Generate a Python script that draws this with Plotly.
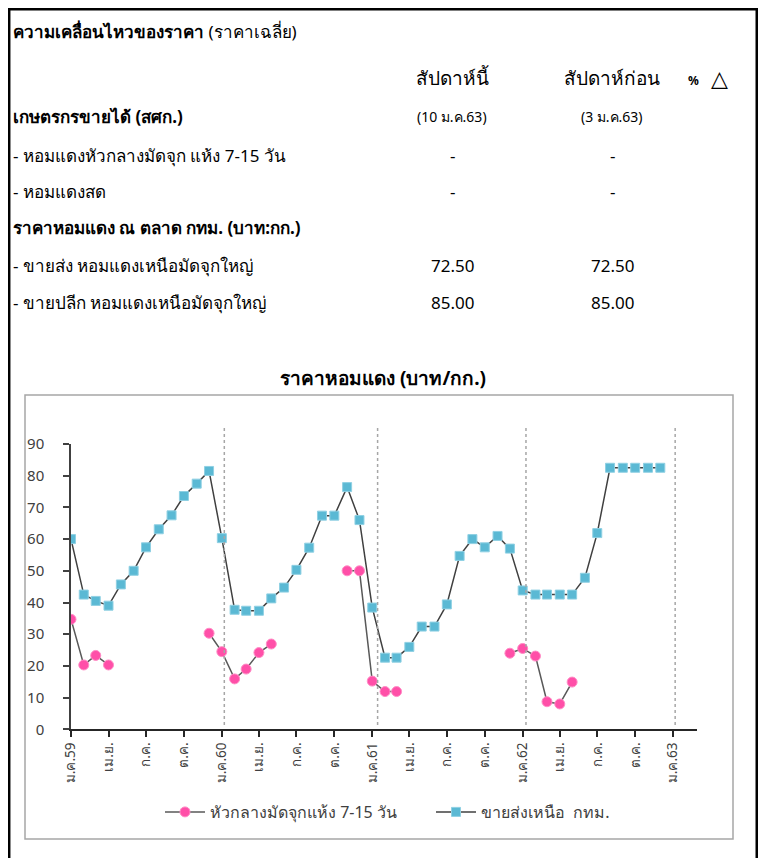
import plotly.graph_objects as go
import pandas as pd

# ---------------- data ----------------
months = pd.date_range("2016-01-01", "2019-12-01", freq="MS").strftime("%Y-%m-%d").tolist()

# ขายส่งเหนือ กทม. (baht/kg), Jan 2016 - Dec 2019
wholesale = [60.0, 42.5, 40.5, 39.0, 45.7, 50.0, 57.4, 63.1, 67.5, 73.6, 77.5, 81.5,
             60.3, 37.7, 37.4, 37.4, 41.3, 44.7, 50.3, 57.3, 67.4, 67.4, 76.4, 66.0,
             38.4, 22.6, 22.6, 26.0, 32.4, 32.4, 39.4, 54.7, 60.0, 57.4, 61.0, 57.0,
             43.8, 42.5, 42.5, 42.5, 42.5, 47.8, 61.9, 82.5, 82.5, 82.5, 82.5, 82.5]

# หัวกลางมัดจุกแห้ง 7-15 วัน (baht/kg), gaps where no data
farm = [34.7, 20.3, 23.3, 20.3, None, None, None, None, None, None, None, 30.3,
        24.5, 15.9, 19.0, 24.2, 26.9, None, None, None, None, None, 50.0, 50.0,
        15.2, 11.9, 11.9, None, None, None, None, None, None, None, None, 24.0,
        25.5, 23.1, 8.7, 8.0, 14.9, None, None, None, None, None, None, None]

tick_dates = pd.date_range("2016-01-01", "2020-01-01", freq="3MS").strftime("%Y-%m-%d").tolist()
tick_labels = ["ม.ค.59", "เม.ย.", "ก.ค.", "ต.ค.",
               "ม.ค.60", "เม.ย.", "ก.ค.", "ต.ค.",
               "ม.ค.61", "เม.ย.", "ก.ค.", "ต.ค.",
               "ม.ค.62", "เม.ย.", "ก.ค.", "ต.ค.",
               "ม.ค.63"]
year_marks = ["2017-01-07", "2018-01-14", "2019-01-09", "2020-01-06"]

series_names = ["หัวกลางมัดจุกแห้ง 7-15 วัน", "ขายส่งเหนือ  กทม."]

table_rows = [
    ("<b>เกษตรกรขายได้ (สศก.)</b>", "(10 ม.ค.63)", "(3 ม.ค.63)"),
    ("- หอมแดงหัวกลางมัดจุก แห้ง 7-15 วัน", "-", "-"),
    ("- หอมแดงสด", "-", "-"),
    ("<b>ราคาหอมแดง ณ ตลาด กทม. (บาท:กก.)</b>", "", ""),
    ("- ขายส่ง หอมแดงเหนือมัดจุกใหญ่", "72.50", "72.50"),
    ("- ขายปลีก หอมแดงเหนือมัดจุกใหญ่", "85.00", "85.00"),
]

# ---------------- figure ----------------
OFF = 8                                  # page margin around the figure
W, H = 766 - OFF, 858 - OFF
FONT = "Tahoma, 'Noto Sans', 'DejaVu Sans', sans-serif"


def px(x):
    return (x - OFF) / W


def py(y):
    return 1 - (y - OFF) / H


fig = go.Figure()
fig.add_trace(go.Scatter(
    x=months, y=farm, name=series_names[0], mode="lines+markers",
    connectgaps=False,
    line=dict(color="#595959", width=1.5),
    marker=dict(symbol="circle", size=10, color="#FF4FA8",
                line=dict(color="#FF8CC6", width=1)),
))
fig.add_trace(go.Scatter(
    x=months, y=wholesale, name=series_names[1], mode="lines+markers",
    line=dict(color="#404040", width=1.5),
    marker=dict(symbol="square", size=9, color="#5BB9D4",
                line=dict(color="#8FD0E3", width=1)),
))

shapes = []
for d in year_marks:
    shapes.append(dict(type="line", xref="x", yref="paper", x0=d, x1=d,
                       y0=py(725), y1=py(428),
                       line=dict(color="#A6A6A6", width=1.5, dash="dot")))
# chart box
shapes.append(dict(type="rect", xref="paper", yref="paper",
                   x0=px(25), x1=px(733), y0=py(839), y1=py(395),
                   line=dict(color="#A6A6A6", width=1.5)))
# outer black border (as close to the page edge as the figure allows)
shapes.append(dict(type="line", xref="paper", yref="paper", x0=px(9.2), x1=px(9.2), y0=0, y1=1,
                   line=dict(color="black", width=2.5)))
shapes.append(dict(type="line", xref="paper", yref="paper", x0=0, x1=px(758.5), y0=py(9.2), y1=py(9.2),
                   line=dict(color="black", width=2.5)))
shapes.append(dict(type="line", xref="paper", yref="paper", x0=px(757), x1=px(757), y0=0, y1=py(8),
                   line=dict(color="black", width=3)))

ann = []


def text(x, y, s, size=17, anchor="left", color="black"):
    ann.append(dict(xref="paper", yref="paper", x=px(x), y=py(y), text=s,
                    showarrow=False, xanchor=anchor, yanchor="middle",
                    font=dict(family=FONT, size=size, color=color)))


text(11, 31, "<b>ความเคลื่อนไหวของราคา</b> (ราคาเฉลี่ย)", size=17)
text(452, 78, "สัปดาห์นี้", size=19, anchor="center")
text(612, 78, "สัปดาห์ก่อน", size=19, anchor="center")
text(701, 80, "<b>%</b>", size=12, anchor="right")
text(709, 77, "<b>△</b>", size=22, anchor="left")
row_y = [117, 155, 191, 228, 266, 302]
for (lab, a, b), yy in zip(table_rows, row_y):
    text(11, yy, lab, size=17)
    small = a.startswith("(")
    text(452, yy, a, size=14 if small else 17, anchor="center")
    text(612, yy, b, size=14 if small else 17, anchor="center")

text(383, 378, "<b>ราคาหอมแดง (บาท/กก.)</b>", size=19, anchor="center")

fig.update_layout(
    width=W, height=H,
    margin=dict(l=0, r=0, t=0, b=0, autoexpand=False),
    paper_bgcolor="white", plot_bgcolor="white",
    font=dict(family=FONT, size=14, color="#404040"),
    shapes=shapes, annotations=ann,
    showlegend=True,
    legend=dict(orientation="h", x=px(160), xanchor="left", y=py(812), yanchor="middle",
                font=dict(family=FONT, size=16, color="#404040"),
                itemwidth=40, entrywidth=216, traceorder="normal"),
    xaxis=dict(domain=[px(71), px(697)], range=["2016-01-01", "2020-02-28"],
               tickvals=tick_dates, ticktext=tick_labels, tickangle=-90,
               showgrid=False, zeroline=False, automargin=False,
               showline=True, linecolor="#262626", linewidth=1.5,
               ticks="outside", ticklen=6, tickcolor="#262626", tickwidth=1.5,
               tickfont=dict(family=FONT, size=13.5, color="#404040")),
    yaxis=dict(domain=[py(729.3), py(444)], range=[0, 90], dtick=10,
               showgrid=False, zeroline=False, automargin=False,
               showline=True, linecolor="#404040", linewidth=1.5,
               ticks="outside", ticklen=6, tickcolor="#404040", tickwidth=1.5,
               ticklabelstandoff=16,
               tickfont=dict(family=FONT, size=15, color="#404040")),
)

fig.write_html("out.html")
